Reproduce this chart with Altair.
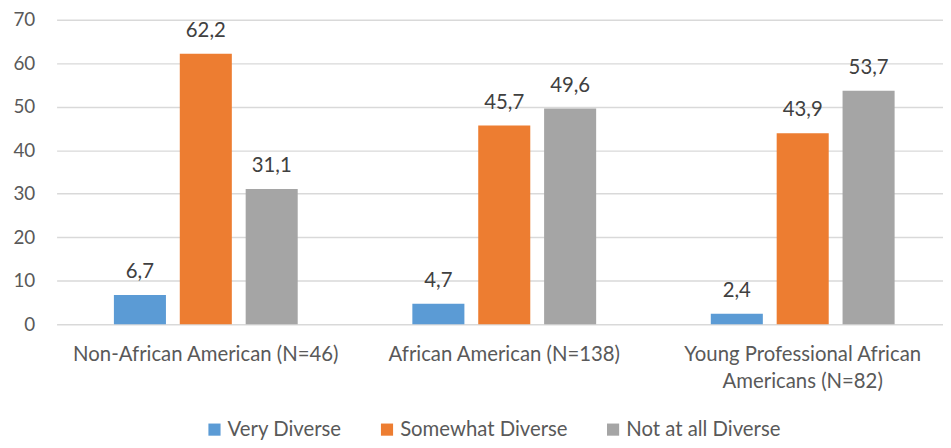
import altair as alt
import pandas as pd

categories = ["Non-African American (N=46)", "African American (N=138)", "Young Professional African Americans (N=82)"]
series = ["Very Diverse", "Somewhat Diverse", "Not at all Diverse"]
very_diverse = [6.7, 4.7, 2.4]
somewhat_diverse = [62.2, 45.7, 43.9]
not_at_all = [31.1, 49.6, 53.7]
colors = ["#5B9BD5", "#ED7D31", "#A5A5A5"]

rows = []
for i, c in enumerate(categories):
    for s, vals in zip(series, [very_diverse, somewhat_diverse, not_at_all]):
        rows.append({"category": c, "series": s, "value": vals[i]})
df = pd.DataFrame(rows)

FONT = "Lato"
TXT = "#595959"

base = alt.Chart(df).encode(
    x=alt.X("category:N", sort=categories, title=None,
            scale=alt.Scale(paddingInner=0, paddingOuter=0),
            axis=alt.Axis(labelAngle=0, ticks=False, domain=False, labelFontSize=20.5,
                          labelFont=FONT, labelColor=TXT, labelPadding=21, labelLimit=400,
                          labelLineHeight=27,
                          labelExpr="datum.label == 'Young Professional African Americans (N=82)' ? ['Young Professional African', 'Americans (N=82)'] : datum.label")),
    xOffset=alt.XOffset("series:N", sort=series,
                        scale=alt.Scale(paddingInner=0.21, paddingOuter=0.87)),
    y=alt.Y("value:Q", title=None,
            scale=alt.Scale(domain=[0, 70], nice=False),
            axis=alt.Axis(values=[0, 10, 20, 30, 40, 50, 60, 70], ticks=False, domain=False,
                          labelFontSize=19, labelFont=FONT, labelColor=TXT, labelPadding=22,
                          gridColor="#D9D9D9", gridWidth=1.5)),
)

bars = base.mark_bar().encode(
    color=alt.Color("series:N", sort=series, scale=alt.Scale(domain=series, range=colors),
                    legend=alt.Legend(title=None, orient="none", direction="horizontal",
                                      legendX=149, legendY=403, symbolType="square",
                                      symbolSize=150, symbolStrokeWidth=0, labelFontSize=20.5,
                                      labelFont=FONT, labelColor=TXT, columnPadding=35,
                                      labelOffset=3, labelLimit=300))
)

labels = base.transform_calculate(
    lbl="replace(format(datum.value, '.1f'), '.', ',')"
).mark_text(baseline="bottom", dy=-13, fontSize=20.5, font=FONT, color="#404040").encode(
    text="lbl:N"
)

chart = alt.layer(bars, labels).properties(
    width=903, height=307,
    autosize=alt.AutoSizeParams(type="none"),
    padding={"left": 49, "top": 10, "right": -9, "bottom": 115},
).configure_view(stroke=None)

chart.save("out.html", embed_options={"renderer": "svg", "actions": False})
